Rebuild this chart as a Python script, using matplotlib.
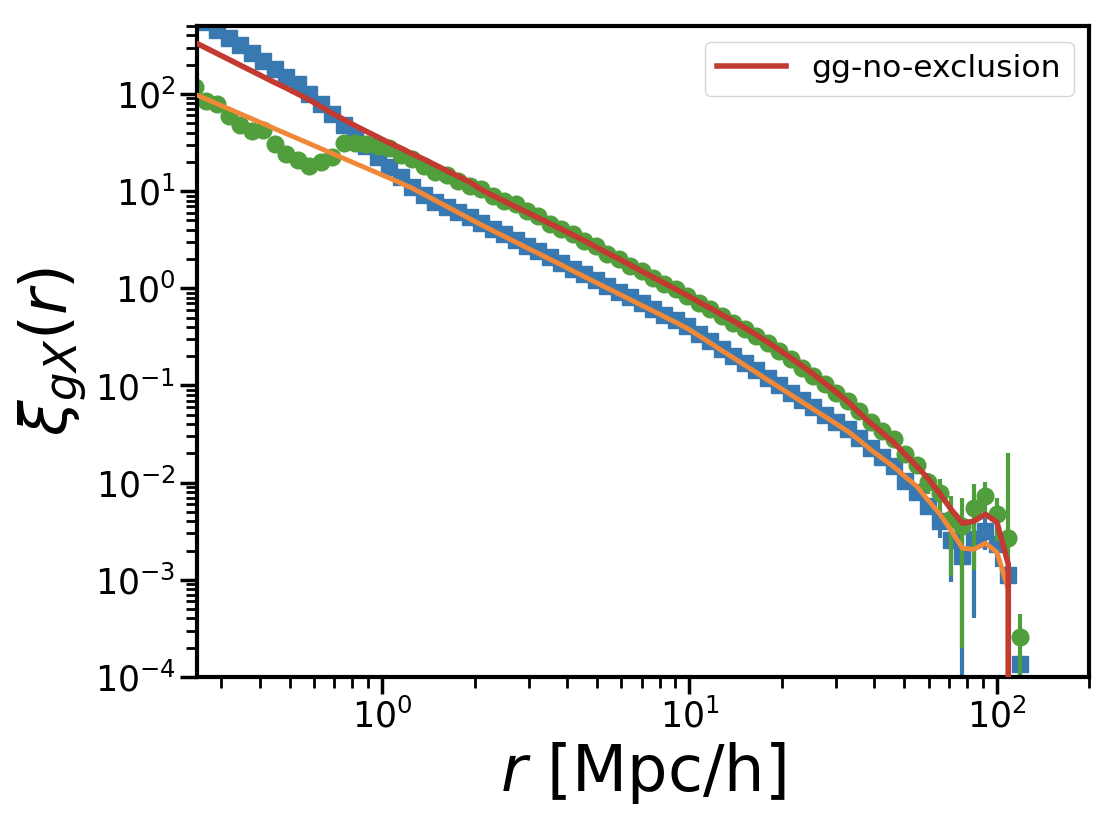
import matplotlib
matplotlib.use("Agg")
import matplotlib.pyplot as plt

# bin centres [Mpc/h]
r = [0.2455, 0.2675, 0.2915, 0.3176, 0.3461, 0.3771, 0.4109, 0.4477, 0.4879, 0.5316,
     0.5793, 0.6313, 0.6878, 0.7495, 0.8167, 0.8899, 0.9696, 1.057, 1.151, 1.254,
     1.367, 1.490, 1.623, 1.769, 1.928, 2.101, 2.289, 2.494, 2.718, 2.961,
     3.227, 3.516, 3.831, 4.175, 4.549, 4.957, 5.400, 5.886, 6.412, 6.989,
     7.614, 8.297, 9.042, 9.851, 10.73, 11.70, 12.74, 13.89, 15.13, 16.49,
     17.97, 19.58, 21.33, 23.25, 25.33, 27.61, 30.08, 32.77, 35.71, 38.91,
     42.40, 46.20, 50.35, 54.86, 59.78, 65.14, 70.98, 77.33, 84.27, 91.83,
     100.1, 109.0, 118.8]

# blue squares (measured)
xi_blue = [659, 552, 459, 380, 316, 263, 219, 182, 151, 125,
           100, 79.1, 61.7, 47.8, 37.2, 28.8, 22.4, 17.5, 13.8, 11.0,
           9.01, 7.74, 6.90, 6.08, 5.38, 4.74, 4.12, 3.60, 3.14, 2.74,
           2.39, 2.09, 1.83, 1.59, 1.39, 1.21, 1.06, 0.921, 0.805, 0.701,
           0.613, 0.536, 0.467, 0.405, 0.341, 0.287, 0.240, 0.203, 0.170, 0.143,
           0.120, 0.101, 0.0846, 0.0710, 0.0596, 0.0502, 0.0421, 0.0354, 0.0287, 0.0229,
           0.0185, 0.0150, 0.0105, 0.0080, 0.0058, 0.0040, 0.00255, 0.00175, 0.00260, 0.00316,
           0.00232, 0.00113, 0.000135]
err_blue = [0] * 60 + [0.0008, 0.0009, 0.0010, 0.0011, 0.0012, 0.0013, 0.0016, 0.0019,
                       0.0022, 0.00115, 0.00095, 0.0003, 0.00005]

# green circles (measured)
xi_green = [117, 83.9, 78.2, 58.9, 48.1, 41.2, 42.7, 30.3, 23.9, 20.7,
            18.0, 20.0, 22.5, 31.0, 31.0, 30.3, 28.9, 27.5, 23.3, 21.2,
            18.0, 15.6, 14.5, 12.6, 11.2, 10.4, 8.85, 7.85, 7.31, 6.19,
            5.50, 4.55, 4.05, 3.59, 3.05, 2.71, 2.24, 1.99, 1.68, 1.50,
            1.27, 1.10, 0.977, 0.828, 0.701, 0.608, 0.515, 0.436, 0.378, 0.321,
            0.272, 0.225, 0.186, 0.150, 0.124, 0.103, 0.0831, 0.0687, 0.0543, 0.0418,
            0.0338, 0.0280, 0.0196, 0.0151, 0.0101, 0.00778, 0.00420, 0.00356, 0.00546, 0.00724,
            0.00473, 0.00268, 0.000257]
err_green = [0] * 58 + [0.0012, 0.0013, 0.0015, 0.0017, 0.0019, 0.0020, 0.00245, 0.0032,
                        0.0031, 0.00336, 0.0042, 0.0028, 0.0022, 0.0173, 0.00019]

# models
xi_orange = [99.5, 88.7, 78.8, 70.1, 62.3, 55.4, 49.4, 43.8, 39.0, 34.7,
             30.9, 27.4, 24.4, 21.7, 19.3, 17.2, 15.3, 13.6, 12.1, 10.7,
             9.27, 8.02, 6.95, 6.01, 5.20, 4.50, 3.92, 3.43, 2.99, 2.61,
             2.28, 1.99, 1.74, 1.51, 1.32, 1.15, 1.007, 0.877, 0.767, 0.668,
             0.584, 0.510, 0.445, 0.386, 0.325, 0.273, 0.229, 0.193, 0.162, 0.136,
             0.114, 0.0959, 0.0806, 0.0676, 0.0568, 0.0478, 0.0401, 0.0337, 0.0273, 0.0218,
             0.0178, 0.0146, 0.0115, 0.00919, 0.00659, 0.00479, 0.00324, 0.00211, 0.00206, 0.00238,
             0.00192, 0.00080, 0.0]
xi_red = [340, 297, 259, 226, 197, 172, 150, 131, 115, 100,
          87.1, 74.3, 63.2, 54.7, 47.1, 41.1, 35.9, 31.3, 27.7, 24.1,
          21.3, 18.6, 16.2, 14.2, 12.4, 10.4, 9.02, 7.89, 6.91, 6.05,
          5.29, 4.63, 4.06, 3.54, 3.09, 2.67, 2.31, 2.01, 1.74, 1.50,
          1.30, 1.125, 0.975, 0.841, 0.724, 0.624, 0.536, 0.460, 0.393, 0.332,
          0.279, 0.233, 0.193, 0.159, 0.130, 0.105, 0.0849, 0.0681, 0.0523, 0.0408,
          0.0326, 0.0259, 0.0195, 0.0148, 0.0110, 0.00778, 0.00532, 0.00382, 0.00401, 0.00473,
          0.00392, 0.00145, 0.0]

c_blue = "#3979b2"
c_green = "#509e3c"
c_orange = "#f08838"
c_red = "#c23a32"

plt.rcParams.update({
    "font.size": 22,
    "axes.linewidth": 3,
    "xtick.major.size": 12, "xtick.major.width": 2.5,
    "ytick.major.size": 12, "ytick.major.width": 2.5,
    "xtick.minor.size": 8, "xtick.minor.width": 2,
    "ytick.minor.size": 8, "ytick.minor.width": 2,
})

fig, ax = plt.subplots(figsize=(11.06, 8.22), dpi=100)
fig.subplots_adjust(left=0.1781, right=0.9849, bottom=0.1764, top=0.9684)

ax.errorbar(r, xi_blue, yerr=err_blue, fmt="s", color=c_blue, ms=12,
            elinewidth=3, capsize=0, zorder=1)
ax.errorbar(r, xi_green, yerr=err_green, fmt="o", color=c_green, ms=12,
            elinewidth=3, capsize=0, zorder=2)
ax.plot(r, xi_orange, color=c_orange, lw=3.5, zorder=3)
ax.plot(r, xi_red, color=c_red, lw=4, zorder=4, label="gg-no-exclusion")

ax.set_xscale("log")
ax.set_yscale("log")
ax.set_xlim(0.25, 200)
ax.set_ylim(1e-4, 500)

ax.set_xlabel(r"$r$ [Mpc/h]", fontsize=46)
ax.set_ylabel(r"$\xi_{gX}(r)$", fontsize=46)
ax.tick_params(labelsize=25)
ax.legend(loc="upper right", fontsize=22.6, handlelength=2.2)

fig.savefig("out.png", dpi=100)
